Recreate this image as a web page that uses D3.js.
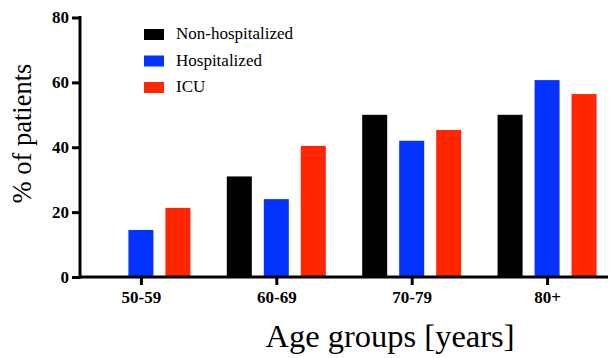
<!DOCTYPE html>
<html>
<head>
<meta charset="utf-8">
<script src="https://cdn.jsdelivr.net/npm/d3@7"></script>
<style>
  html, body { margin: 0; padding: 0; background: #fff; }
  svg { display: block; }
  svg text { font-family: "Liberation Serif", "Times New Roman", serif; fill: #000; }
</style>
</head>
<body>
<svg id="chart" width="613" height="358"></svg>
<script>
// Share of patients per age group, by care setting
const ageGroups = ["50-59", "60-69", "70-79", "80+"];
const seriesNames = ["Non-hospitalized", "Hospitalized", "ICU"];
const nonHospitalized = [0, 31, 50, 50];
const hospitalized = [14.5, 24, 42, 60.7];
const icu = [21.3, 40.4, 45.3, 56.4];
const yTicks = [0, 20, 40, 60, 80];
const seriesColors = ["#000000", "#0433ff", "#ff2600"];

const seriesValues = [nonHospitalized, hospitalized, icu];

const svg = d3.select("#chart");
const plotLeft = 80, plotRight = 608, plotTop = 17.5, plotBottom = 277;

const x = d3.scalePoint().domain(ageGroups).range([plotLeft, plotRight]).padding(0.45);
const xSub = d3.scaleBand().domain(seriesNames).range([-49.5, 49.5]).paddingInner(12 / 37);
const y = d3.scaleLinear().domain([0, 80]).range([plotBottom, plotTop]);

// Bars
const groups = svg.append("g").selectAll("g")
  .data(ageGroups)
  .join("g")
  .attr("transform", d => `translate(${x(d)},0)`);

groups.selectAll("rect")
  .data((g, gi) => seriesNames.map((s, si) => ({ s, si, v: seriesValues[si][gi] })))
  .join("rect")
  .attr("x", d => xSub(d.s))
  .attr("width", xSub.bandwidth())
  .attr("y", d => y(d.v))
  .attr("height", d => y(0) - y(d.v))
  .attr("fill", d => seriesColors[d.si]);

// Y axis
const yAxis = svg.append("g")
  .attr("transform", `translate(${plotLeft},0)`)
  .call(d3.axisLeft(y).tickValues(yTicks).tickSize(8).tickPadding(3));
yAxis.attr("font-family", null);
yAxis.select(".domain").attr("d", `M0,${plotTop}V${plotBottom}`).attr("stroke-width", 3).attr("stroke-linecap", "square");
yAxis.selectAll(".tick line").attr("stroke-width", 3);
yAxis.selectAll(".tick text")
  .style("font-weight", "bold").style("font-size", "17px");

// X axis
const xAxis = svg.append("g")
  .attr("transform", `translate(0,${plotBottom})`)
  .call(d3.axisBottom(x).tickSize(8).tickPadding(6));
xAxis.attr("font-family", null);
xAxis.select(".domain").attr("d", `M${plotLeft},0H${plotRight}`).attr("stroke-width", 3);
xAxis.selectAll(".tick line").attr("stroke-width", 3);
xAxis.selectAll(".tick text")
  .style("font-weight", "bold").style("font-size", "17px");

// Axis titles
svg.append("text")
  .attr("transform", "translate(31,133.5) rotate(-90)")
  .attr("text-anchor", "middle")
  .style("font-size", "26.5px")
  .text("% of patients");

svg.append("text")
  .attr("x", 390).attr("y", 347)
  .attr("text-anchor", "middle")
  .style("font-size", "32.5px")
  .text("Age groups [years]");

// Legend
const legend = svg.append("g").attr("transform", "translate(144,29)");
const items = legend.selectAll("g")
  .data(seriesNames)
  .join("g")
  .attr("transform", (d, i) => `translate(0,${i * 26.5})`);
items.append("rect")
  .attr("x", 0).attr("y", 0).attr("width", 20).attr("height", 11)
  .attr("fill", (d, i) => seriesColors[i]);
items.append("text")
  .attr("x", 32).attr("y", 10)
  .style("font-size", "17px")
  .text(d => d);
</script>
</body>
</html>
